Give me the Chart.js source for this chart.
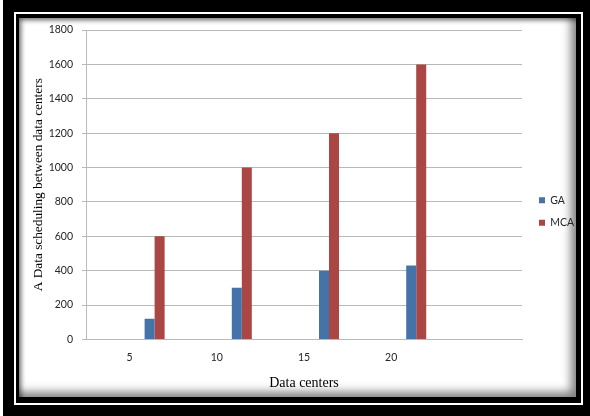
<!DOCTYPE html>
<html>
<head>
<meta charset="utf-8">
<script src="https://cdn.jsdelivr.net/npm/chart.js@4/dist/chart.umd.min.js"></script>
<style>
  html, body { margin: 0; padding: 0; background: #fff; }
  #wrap { position: relative; width: 590px; height: 416px; overflow: hidden; }
  #frame { position: absolute; left: 3px; top: 0; width: 587px; height: 416px; background: #000; }
  #rule { position: absolute; left: 14px; top: 12px; width: 569px; height: 393px; box-sizing: border-box; border: 2px solid #fff; }
  #panel { position: absolute; left: 19px; top: 18px; width: 557px; height: 379px; background: #fff;
           box-shadow: inset 4px 4px 5px -2px rgba(0,0,0,0.6), inset -8px -8px 10px -3px rgba(0,0,0,0.5); }
  #chart { position: absolute; left: 0; top: 0; }
</style>
</head>
<body>
<div id="wrap">
  <div id="frame"></div>
  <div id="rule"></div>
  <div id="panel"></div>
  <canvas id="chart" width="590" height="416"></canvas>
</div>
<script>
// Categories along the x axis (the last slot is left unlabeled)
const categories = ['5', '10', '15', '20', ''];
// Series values
const gaValues  = [120, 300, 400, 430];
const mcaValues = [600, 1000, 1200, 1600];
// Value axis ticks
const yTicks = [0, 200, 400, 600, 800, 1000, 1200, 1400, 1600, 1800];

const SERIES_COLORS = { GA: '#4572A7', MCA: '#AA4643' };
const GRID = '#b9b9b9';
const TICK_COLOR = '#262626';
const TICK_FONT = { family: 'Lato', size: 10.5 };
const LEGEND_W = 68;
const SPACER_COUNT = 5;   // empty slots ahead of the two series in each group

const spacers = Array.from({ length: SPACER_COUNT }, () => ({
  label: '', data: [], backgroundColor: 'rgba(0,0,0,0)', borderWidth: 0
}));

// Fixed-width legend placed beside the plot
const legendPlacement = {
  id: 'legendPlacement',
  beforeLayout(chart) {
    const lg = chart.legend;
    if (lg && !lg._fixedFit) {
      const fit = lg.fit.bind(lg);
      lg.fit = function () { fit(); this.width = LEGEND_W; };
      lg._fixedFit = true;
    }
  },
  afterLayout(chart) {
    const lg = chart.legend;
    if (!lg) return;
    lg.left = 527; lg.right = lg.left + LEGEND_W;
    lg.top = 183; lg.bottom = lg.top + 120;
  }
};

new Chart(document.getElementById('chart'), {
  type: 'bar',
  data: {
    labels: categories,
    datasets: [
      ...spacers,
      { label: 'GA', data: gaValues, backgroundColor: SERIES_COLORS.GA, borderWidth: 0 },
      { label: 'MCA', data: mcaValues, backgroundColor: SERIES_COLORS.MCA, borderWidth: 0 }
    ]
  },
  options: {
    responsive: false,
    animation: false,
    devicePixelRatio: 1,
    datasets: { bar: { barPercentage: 1, categoryPercentage: 0.803 } },
    layout: { padding: { left: 24, top: 30, right: 0, bottom: 20 } },
    plugins: {
      tooltip: { enabled: false },
      legend: {
        position: 'right',
        align: 'start',
        labels: {
          filter: item => item.text !== '',
          boxWidth: 6, boxHeight: 6, padding: 12,
          color: TICK_COLOR,
          font: TICK_FONT
        }
      }
    },
    scales: {
      x: {
        grid: { display: false },
        border: { display: true, color: GRID },
        ticks: { color: TICK_COLOR, padding: 4, font: TICK_FONT },
        title: { display: true, text: 'Data centers', color: '#000',
                 font: { family: 'Liberation Serif', size: 14 }, padding: { top: 0, bottom: 4 } },
        afterFit(scale) { scale.height = 56.6; }
      },
      y: {
        min: 0, max: 1800,
        afterBuildTicks(scale) { scale.ticks = yTicks.map(v => ({ value: v })); },
        grid: { color: GRID, tickLength: 4, tickColor: GRID },
        border: { display: true, color: GRID },
        ticks: { color: TICK_COLOR, padding: 9, font: TICK_FONT, callback: v => String(v) },
        title: { display: true, text: 'A Data scheduling between data centers', color: '#000',
                 font: { family: 'Liberation Serif', size: 13.3 }, padding: { top: 7, bottom: 0 } },
        afterFit(scale) { scale.width = 62; }
      }
    }
  },
  plugins: [legendPlacement]
});
</script>
</body>
</html>
